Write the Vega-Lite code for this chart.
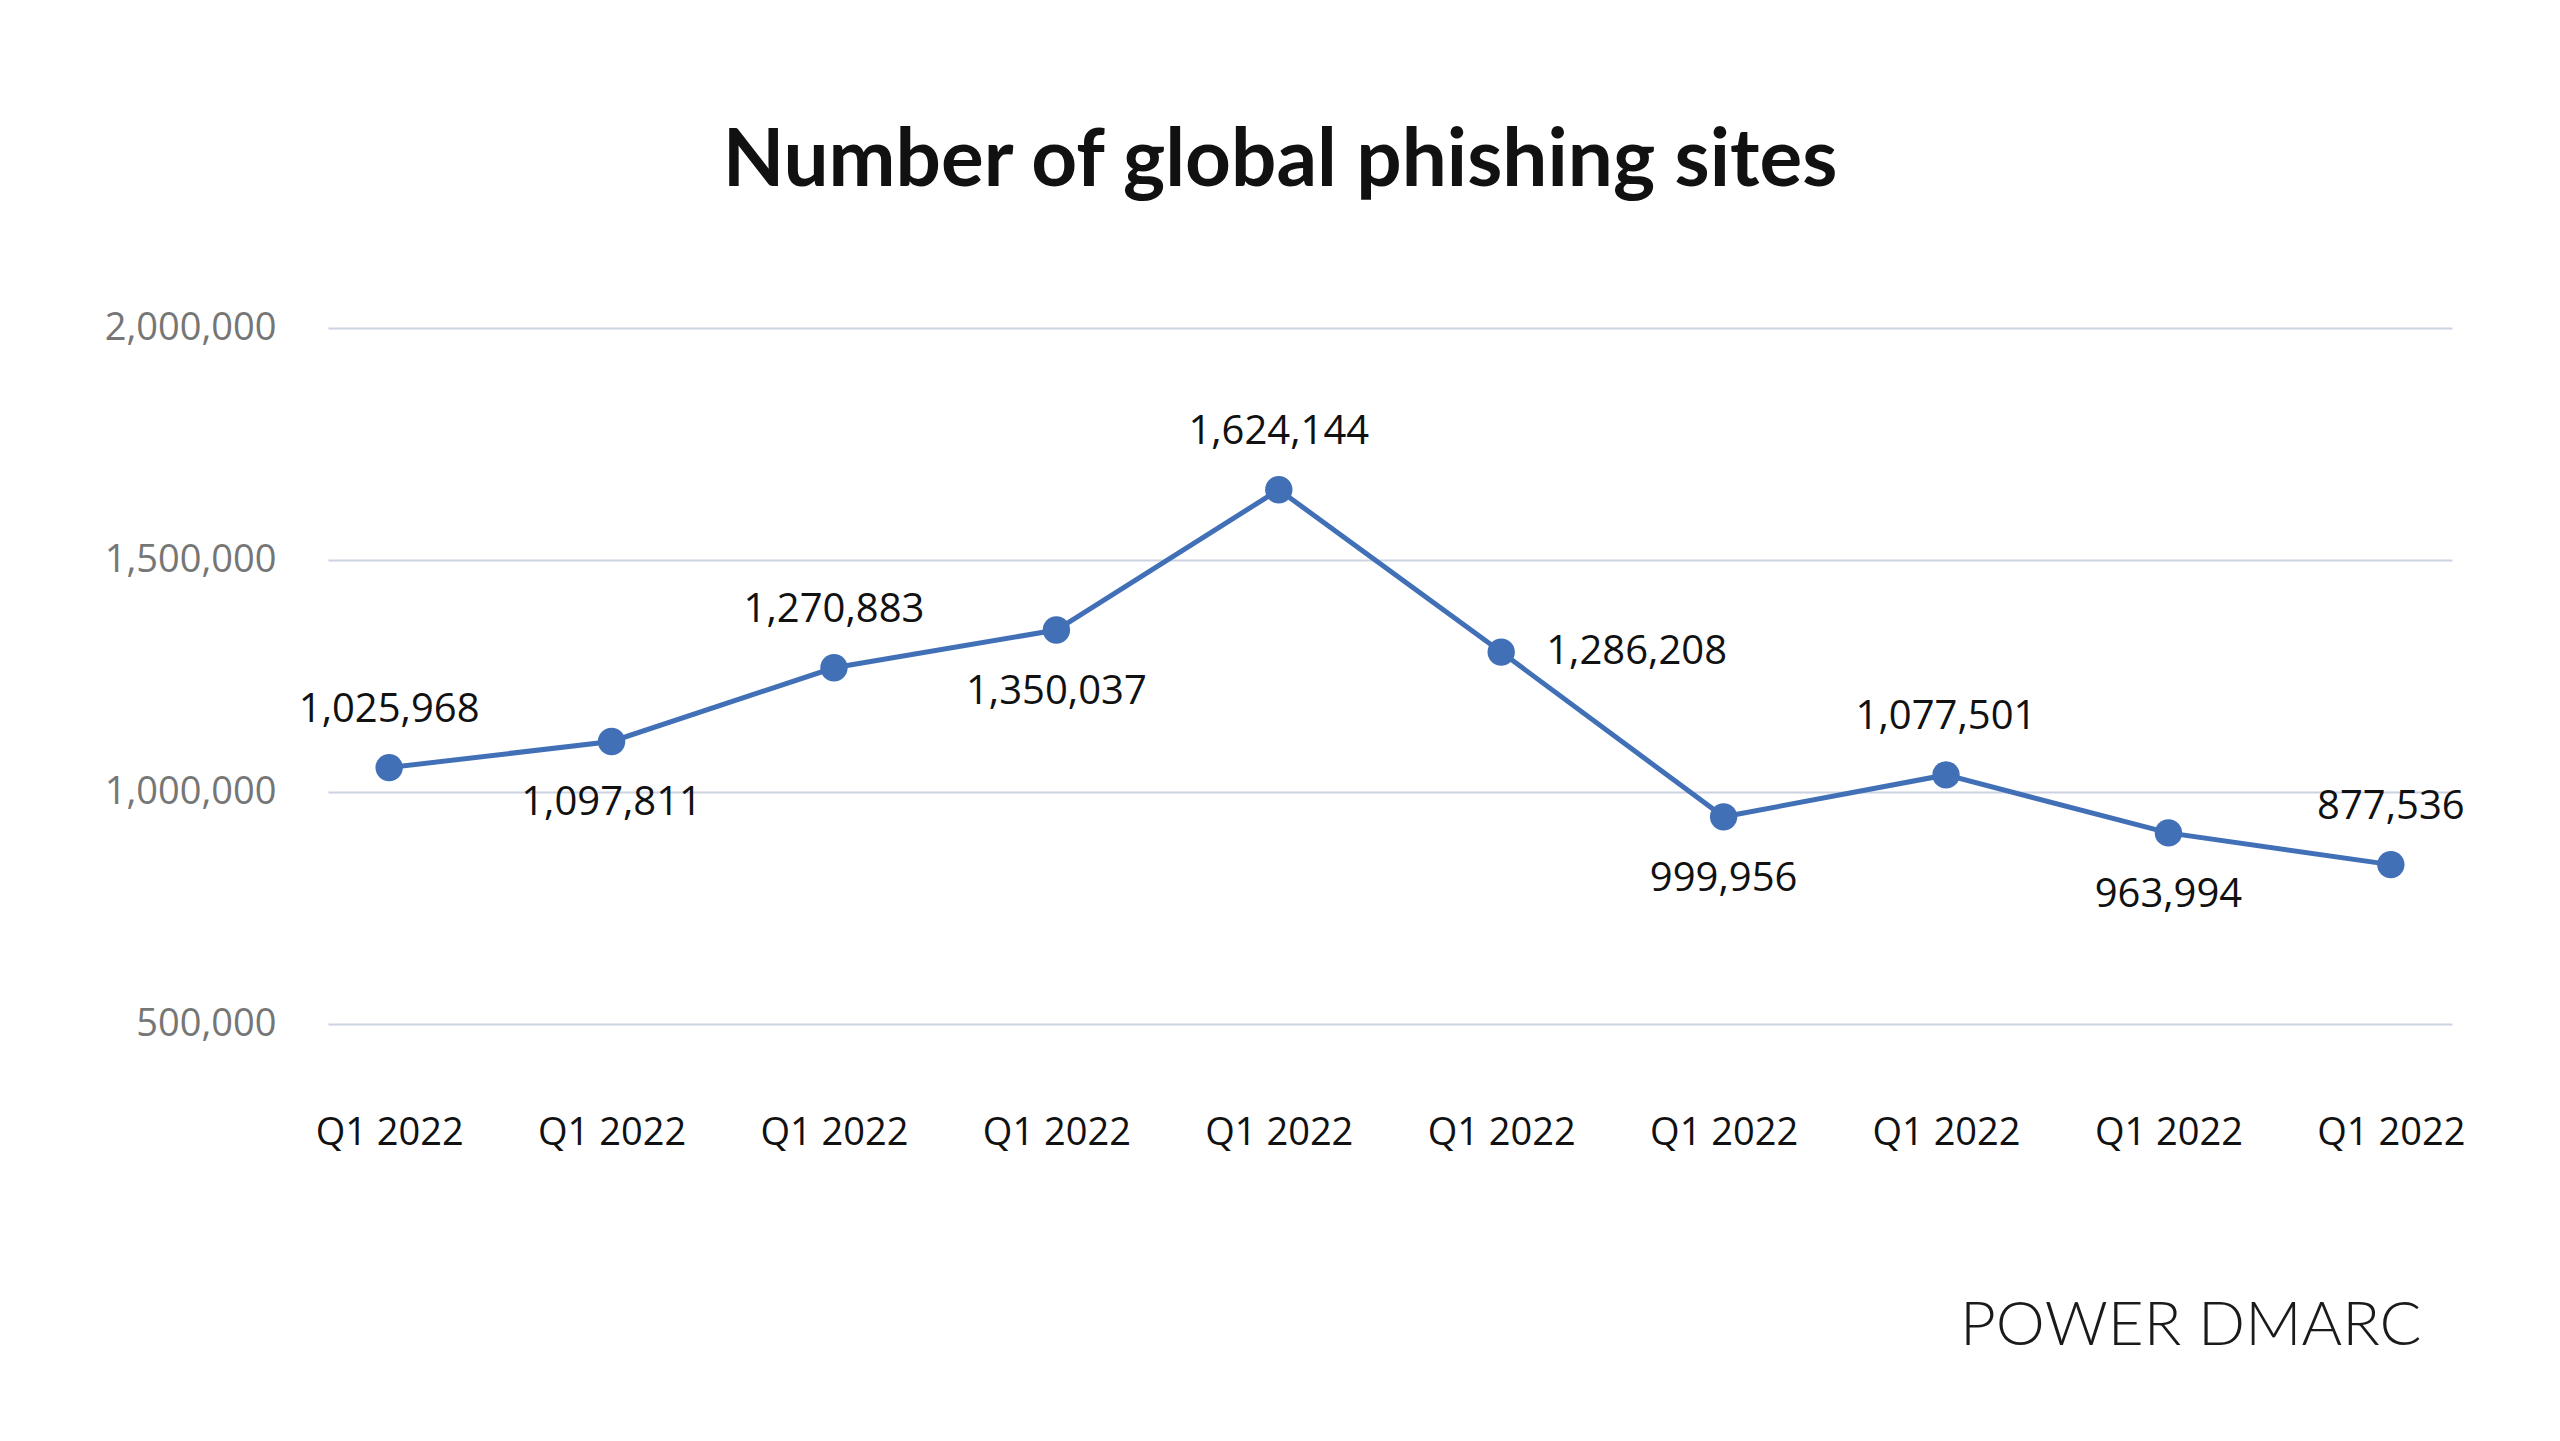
{
  "$schema": "https://vega.github.io/schema/vega-lite/v6.json",
  "width": 2124,
  "height": 696,
  "autosize": "none",
  "padding": {"left": 328, "top": 328, "right": 108, "bottom": 417},
  "background": "white",
  "view": {"stroke": null},
  "title": {
    "text": "Number of global phishing sites",
    "font": "Lato",
    "fontSize": 80,
    "fontWeight": "bold",
    "color": "#111111",
    "anchor": "middle",
    "frame": "group",
    "dx": -110,
    "offset": 43,
    "baseline": "alphabetic"
  },
  "data": {
    "values": [
      {"n": 1, "quarter": "Q1 2022", "value": 1052600, "label": "1,025,968"},
      {"n": 2, "quarter": "Q1 2022", "value": 1108900, "label": "1,097,811"},
      {"n": 3, "quarter": "Q1 2022", "value": 1267700, "label": "1,270,883"},
      {"n": 4, "quarter": "Q1 2022", "value": 1349100, "label": "1,350,037"},
      {"n": 5, "quarter": "Q1 2022", "value": 1651500, "label": "1,624,144"},
      {"n": 6, "quarter": "Q1 2022", "value": 1301500, "label": "1,286,208"},
      {"n": 7, "quarter": "Q1 2022", "value": 946500, "label": "999,956"},
      {"n": 8, "quarter": "Q1 2022", "value": 1036800, "label": "1,077,501"},
      {"n": 9, "quarter": "Q1 2022", "value": 911900, "label": "963,994"},
      {"n": 10, "quarter": "Q1 2022", "value": 843500, "label": "877,536"}
    ]
  },
  "encoding": {
    "x": {
      "field": "n",
      "type": "ordinal",
      "sort": null,
      "scale": {"type": "point", "padding": 0.275},
      "axis": {
        "labelExpr": "'Q1 2022'",
        "labelAngle": 0,
        "labelFont": "Open Sans",
        "labelFontSize": 38,
        "labelColor": "#111111",
        "labelPadding": 90,
        "domain": false,
        "ticks": false,
        "grid": false,
        "title": "POWER DMARC",
        "titleFont": "Lato",
        "titleFontSize": 62,
        "titleFontWeight": 300,
        "titleColor": "#1a1a1a",
        "titleX": 2093,
        "titleY": 320,
        "titleAlign": "right",
        "titleBaseline": "alphabetic"
      }
    },
    "y": {
      "field": "value",
      "type": "quantitative",
      "scale": {"domain": [500000, 2000000], "nice": false, "zero": false},
      "axis": {
        "values": [500000, 1000000, 1500000, 2000000],
        "format": ",d",
        "labelFont": "Open Sans",
        "labelFontSize": 38,
        "labelColor": "#767676",
        "labelPadding": 52,
        "domain": false,
        "ticks": false,
        "grid": true,
        "gridColor": "#CDD2E2",
        "gridWidth": 2,
        "title": null
      }
    }
  },
  "layer": [
    {"mark": {"type": "line", "color": "#4170B7", "strokeWidth": 5}},
    {"mark": {"type": "point", "filled": true, "size": 750, "color": "#4170B7", "opacity": 1}},
    {
      "transform": [{"filter": {"field": "n", "oneOf": [1, 3, 5, 8, 10]}}],
      "mark": {"type": "text", "font": "Open Sans", "fontSize": 40, "color": "#111111", "dy": -58, "fontWeight": 500},
      "encoding": {"text": {"field": "label"}}
    },
    {
      "transform": [{"filter": {"field": "n", "oneOf": [2, 4, 7, 9]}}],
      "mark": {"type": "text", "font": "Open Sans", "fontSize": 40, "color": "#111111", "dy": 62, "fontWeight": 500},
      "encoding": {"text": {"field": "label"}}
    },
    {
      "transform": [{"filter": {"field": "n", "oneOf": [6]}}],
      "mark": {"type": "text", "font": "Open Sans", "fontSize": 40, "color": "#111111", "align": "left", "dx": 45, "fontWeight": 500},
      "encoding": {"text": {"field": "label"}}
    }
  ]
}
